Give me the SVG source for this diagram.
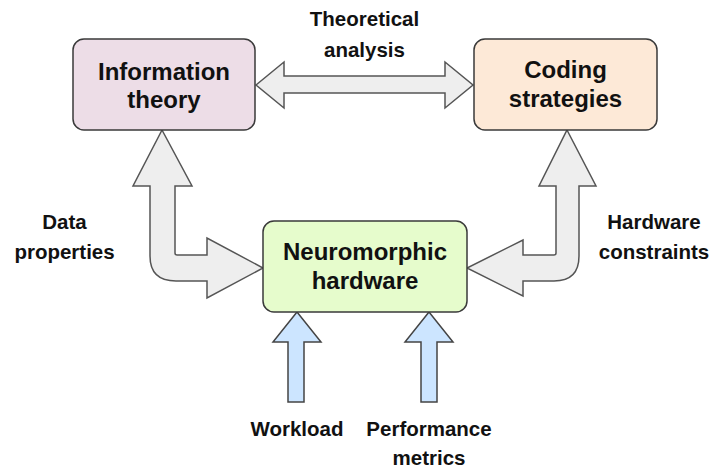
<svg xmlns="http://www.w3.org/2000/svg" width="713" height="468" viewBox="0 0 713 468">
  <style>
    .node { stroke: #3a3a3a; stroke-width: 1.5; }
    .title { font-family: "Liberation Sans", Arial, sans-serif; font-weight: bold; font-size: 24px; fill: #111; text-anchor: middle; }
    .label { font-family: "Liberation Sans", Arial, sans-serif; font-weight: bold; font-size: 20.5px; fill: #111; text-anchor: middle; }
    .grey { fill: #eeeeee; stroke: #555555; stroke-width: 1.5; stroke-linejoin: miter; }
    .blue { fill: #cce5ff; stroke: #444444; stroke-width: 1.5; }
  </style>
  <rect width="713" height="468" fill="#ffffff"/>

  <g id="connectors">
    <!-- Information theory <-> Coding strategies -->
    <path class="grey" d="M256,85 L284,62 L284,76 L445,76 L445,62 L473,85 L445,108 L445,93 L284,93 L284,108 Z"/>
    <!-- Information theory <-> Neuromorphic hardware (bent) -->
    <path class="grey" d="M162,130 L192,186 L175,186 L175,253 Q175,255 177,255 L207,255 L207,238 L263,268 L207,298 L207,281 L176,281 Q150,281 150,256 L150,186 L133,186 Z"/>
    <!-- Coding strategies <-> Neuromorphic hardware (bent) -->
    <path class="grey" d="M567,130 L596,186 L579,186 L579,256 Q579,281 554,281 L523,281 L523,296 L467,268 L523,240 L523,255 L554,255 Q556,255 556,253 L556,186 L539,186 Z"/>
    <!-- inputs into Neuromorphic hardware -->
    <path class="blue" d="M297,312 L321,342 L304,342 L304,402 L288,402 L288,342 L273,342 Z"/>
    <path class="blue" d="M429,312 L453,342 L437,342 L437,402 L421,402 L421,342 L405,342 Z"/>
  </g>

  <g id="information-theory">
    <rect class="node" x="73" y="39" width="182" height="91" rx="11" fill="#eddde7"/>
    <text class="title" x="164" y="80">Information</text>
    <text class="title" x="164" y="108">theory</text>
  </g>

  <g id="coding-strategies">
    <rect class="node" x="474" y="39" width="183" height="91" rx="11" fill="#fde9d7"/>
    <text class="title" x="565.5" y="78">Coding</text>
    <text class="title" x="565.5" y="107">strategies</text>
  </g>

  <g id="neuromorphic-hardware">
    <rect class="node" x="263" y="221" width="204" height="91" rx="11" fill="#e6fccc"/>
    <text class="title" x="365" y="260">Neuromorphic</text>
    <text class="title" x="365" y="289">hardware</text>
  </g>

  <g id="labels">
    <text class="label" x="364.5" y="26">Theoretical</text>
    <text class="label" x="364.5" y="57">analysis</text>
    <text class="label" x="64.5" y="229">Data</text>
    <text class="label" x="64.5" y="259">properties</text>
    <text class="label" x="654" y="229">Hardware</text>
    <text class="label" x="654" y="259">constraints</text>
    <text class="label" x="297" y="436">Workload</text>
    <text class="label" x="429" y="436">Performance</text>
    <text class="label" x="429" y="465">metrics</text>
  </g>
</svg>
